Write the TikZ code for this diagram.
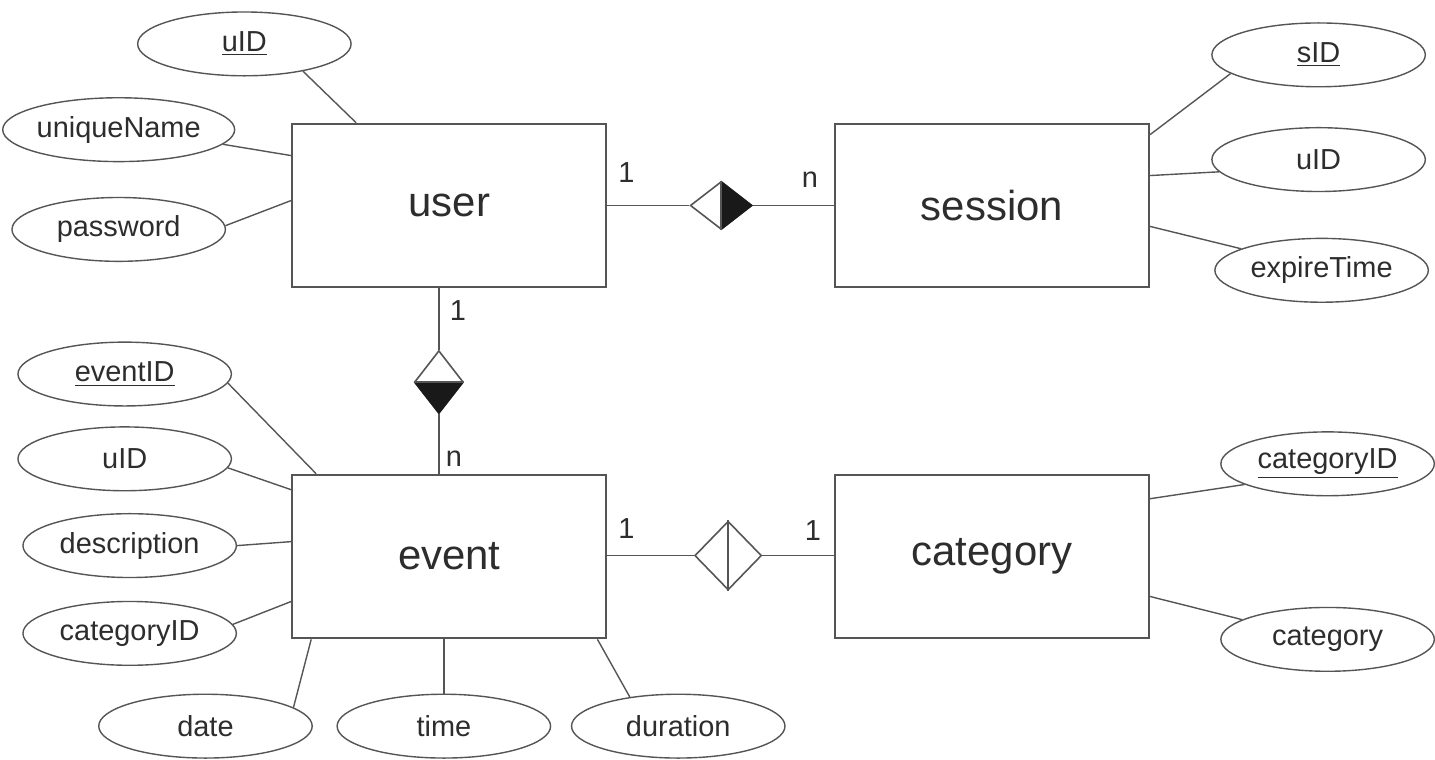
\documentclass[tikz,border=0pt]{standalone}
\usepackage{fontspec}
\setmainfont{Liberation Sans}
\usetikzlibrary{shapes.geometric,calc}

\definecolor{linegray}{RGB}{85,85,85}
\definecolor{textgray}{RGB}{45,45,45}

\tikzset{
	entity/.style={draw=linegray, line width=1pt, minimum width=157.5pt, minimum height=82pt, inner sep=0pt, text=textgray, font=\fontsize{21}{25}\selectfont},
	attr/.style={ellipse, draw=linegray, line width=0.7pt, minimum width=107pt, minimum height=32pt, inner sep=0pt, text=textgray, font=\fontsize{14.5}{17}\selectfont},
	rel/.style={diamond, draw=linegray, line width=0.8pt, inner sep=0pt, fill=white},
	card/.style={text=textgray, font=\fontsize{14.5}{17}\selectfont, inner sep=0pt},
	link/.style={draw=linegray, line width=0.7pt}
}

\begin{document}
\begin{tikzpicture}[x=0.5pt, y=-0.5pt]
		\fill[white] (0,0) rectangle (1435,761);

		% draw the entities
		\node (user) at (450.5,206) [entity] {user};
		\node (session) at (994.5,206) [entity] {session};
		\node (event) at (450.5,558) [entity] {event};
		\node (category) at (994.5,558) [entity] {category};

		% attributes of user
		\node (uid) at (245,44) [attr] {\underline{uID}};
		\node (uname) at (119,130) [attr] {uniqueName};
		\node (pwd) at (119,230) [attr] {password};

		% attributes of session
		\node (sid) at (1322,55) [attr] {\underline{sID}};
		\node (suid) at (1322,160) [attr] {uID};
		\node (expire) at (1325,271) [attr] {expireTime};

		% attributes of event
		\node (eid) at (125,375) [attr] {\underline{eventID}};
		\node (euid) at (125,460) [attr] {uID};
		\node (descr) at (130,547) [attr] {description};
		\node (ecatid) at (130,635) [attr] {categoryID};
		\node (date) at (206,728) [attr] {date};
		\node (time) at (445,728) [attr] {time};
		\node (dur) at (680,728) [attr] {duration};

		% attributes of category
		\node (catid) at (1331,465) [attr] {\underline{categoryID}};
		\node (catname) at (1331,641) [attr] {category};

		% connect the attributes
		\draw [link] (uid.-25) -- ($(user.north west)+(65,0)$);
		\draw [link] (uname.-8) -- ($(user.north west)+(0,33)$);
		\draw [link] (pwd.2) -- ($(user.north west)+(0,78)$);

		\draw [link] (sid.-168) -- ($(session.north east)+(0,12)$);
		\draw [link] (suid.-173) -- ($(session.north east)+(0,53)$);
		\draw [link] (expire.165) -- ($(session.north east)+(0,104)$);

		\draw [link] (eid.-5) -- ($(event.north west)+(25,0)$);
		\draw [link] (euid.-5) -- ($(event.north west)+(0,16)$);
		\draw [link] (descr.east) -- ($(event.north west)+(0,68)$);
		\draw [link] (ecatid.5) -- ($(event.north west)+(0,128)$);
		\draw [link] (date.12) -- ($(event.south west)+(20,0)$);
		\draw [link] (time.north) -- (time.north |- event.south);
		\draw [link] (dur.149) -- ($(event.south east)+(-10,0)$);

		\draw [link] (catid.-166) -- ($(category.north east)+(0,25)$);
		\draw [link] (catname.167) -- ($(category.north east)+(0,123)$);

		% draw the relationships
		\node (ownsess) at (723,206) [rel, minimum width=31pt, minimum height=24pt] {};
		\node (ownevt) at (440,383) [rel, minimum width=24.5pt, minimum height=31.5pt] {};
		\node (incat) at (730,557) [rel, minimum width=33.5pt, minimum height=34.5pt] {};

		\fill [black!90] (ownsess.north) -- (ownsess.east) -- (ownsess.south) -- cycle;
		\draw [linegray, line width=0.8pt] (ownsess.north) -- (ownsess.south);
		\fill [black!90] (ownevt.west) -- (ownevt.south) -- (ownevt.east) -- cycle;
		\draw [linegray, line width=0.8pt] (ownevt.west) -- (ownevt.east);
		\draw [linegray, line width=0.8pt] (incat.north) -- (incat.south);

		\draw [link, line width=0.9pt] (user) -- (ownsess);
		\draw [link, line width=0.9pt] (ownsess) -- (session);
		\draw [link, line width=0.9pt] (ownevt.north) -- (ownevt.north |- user.south);
		\draw [link, line width=0.9pt] (ownevt.south) -- (ownevt.south |- event.north);
		\draw [link, line width=0.9pt] (event.east |- incat.west) -- (incat.west);
		\draw [link, line width=0.9pt] (incat.east) -- (category.west |- incat.east);

		% cardinalities
		\node (c1) at (628,173) [card] {1};
		\node (c2) at (812,180) [card] {n};
		\node (c3) at (459,311) [card] {1};
		\node (c4) at (455,460) [card] {n};
		\node (c5) at (628,530) [card] {1};
		\node (c6) at (815,532) [card] {1};
\end{tikzpicture}
\end{document}
